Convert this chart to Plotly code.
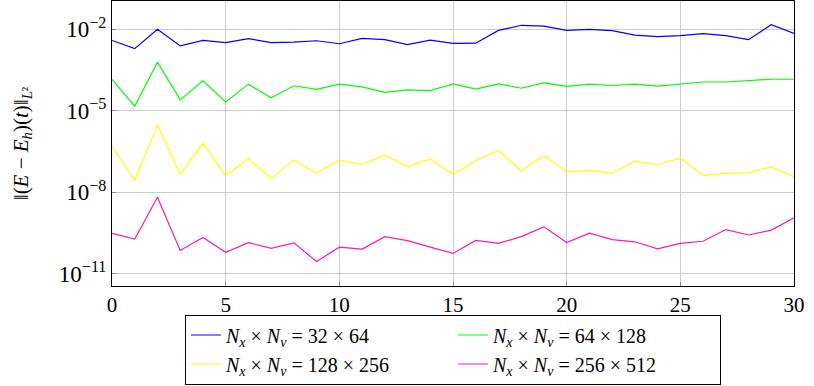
import plotly.graph_objects as go

# time steps
t = list(range(31))

# log10 of the L2 error
log_err_32 = [-2.41, -2.71, -2.00, -2.61, -2.41, -2.49, -2.34, -2.49, -2.47, -2.42,
              -2.53, -2.33, -2.38, -2.56, -2.40, -2.52, -2.51, -2.04, -1.85, -1.88,
              -2.04, -2.00, -2.05, -2.21, -2.27, -2.23, -2.16, -2.23, -2.38, -1.83,
              -2.15]
log_err_64 = [-3.84, -4.83, -3.21, -4.60, -3.90, -4.68, -4.02, -4.52, -4.08, -4.21,
              -4.02, -4.12, -4.32, -4.23, -4.26, -4.01, -4.20, -4.01, -4.17, -3.97,
              -4.10, -4.02, -4.07, -4.02, -4.09, -4.01, -3.94, -3.94, -3.90, -3.84,
              -3.84]
log_err_128 = [-6.32, -7.56, -5.53, -7.35, -6.20, -7.40, -6.77, -7.49, -6.82, -7.30,
               -6.82, -6.98, -6.63, -7.06, -6.78, -7.35, -6.84, -6.46, -7.22, -6.64,
               -7.25, -7.20, -7.31, -6.86, -6.99, -6.75, -7.38, -7.31, -7.28, -7.07,
               -7.43]
log_err_256 = [-9.52, -9.73, -8.19, -10.15, -9.67, -10.22, -9.86, -10.07, -9.87, -10.56,
               -10.03, -10.10, -9.64, -9.79, -10.03, -10.26, -9.78, -9.89, -9.64, -9.28,
               -9.86, -9.51, -9.75, -9.83, -10.09, -9.89, -9.81, -9.38, -9.58, -9.40,
               -8.95]

names = ["<i>N<sub>x</sub></i> × <i>N<sub>v</sub></i> = 32 × 64",
         "<i>N<sub>x</sub></i> × <i>N<sub>v</sub></i> = 64 × 128",
         "<i>N<sub>x</sub></i> × <i>N<sub>v</sub></i> = 128 × 256",
         "<i>N<sub>x</sub></i> × <i>N<sub>v</sub></i> = 256 × 512"]
colors = ["#0000ff", "#00ff00", "#ffff00", "#ff1aa8"]

ytick_vals = [1e-2, 1e-5, 1e-8, 1e-11]
ytick_text = ["10<sup>−2</sup>", "10<sup>−5</sup>", "10<sup>−8</sup>", "10<sup>−11</sup>"]

FONT = "Times New Roman, Liberation Serif, serif"

fig = go.Figure()
for logs, name, col in zip([log_err_32, log_err_64, log_err_128, log_err_256], names, colors):
    fig.add_trace(go.Scatter(x=t, y=[10 ** v for v in logs], mode="lines", name=name,
                             line=dict(color=col, width=1.2)))

fig.update_layout(
    width=814, height=386,
    margin=dict(l=112, r=20, t=1, b=96),
    plot_bgcolor="white", paper_bgcolor="white",
    font=dict(family=FONT, size=21, color="black"),
    showlegend=True,
    legend=dict(orientation="h", x=0.5, xanchor="center", y=-0.1, yanchor="top",
                bordercolor="black", borderwidth=1, bgcolor="white",
                entrywidth=222, font=dict(size=20), tracegroupgap=0),
)
fig.update_xaxes(range=[0, 30], tickvals=[0, 5, 10, 15, 20, 25, 30],
                 showgrid=True, gridcolor="#cccccc", gridwidth=1,
                 showline=True, linecolor="black", linewidth=1, mirror=True,
                 ticks="inside", ticklen=4, tickcolor="#888888", zeroline=False)
fig.update_yaxes(type="log", range=[-11.46, -0.955],
                 tickvals=ytick_vals, ticktext=ytick_text, tickfont=dict(size=23),
                 showgrid=True, gridcolor="#cccccc", gridwidth=1,
                 showline=True, linecolor="black", linewidth=1, mirror=True,
                 ticks="inside", ticklen=4, tickcolor="#888888", zeroline=False,
                 title=dict(text="‖(<i>E</i> − <i>E<sub>h</sub></i>)(<i>t</i>)‖<sub><i>L</i>²</sub>",
                            font=dict(size=21), standoff=24))

# drop the default page margin so the figure sits at the window origin
fig.write_html("out.html", config={"displayModeBar": False},
               post_script="document.body.style.margin='0';")
